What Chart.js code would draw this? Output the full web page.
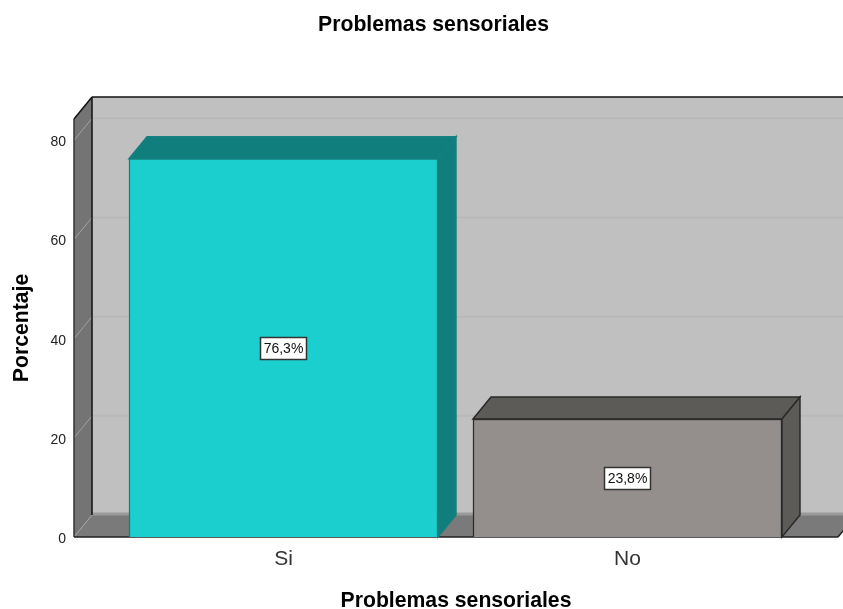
<!DOCTYPE html>
<html>
<head>
<meta charset="utf-8">
<style>
html,body{margin:0;padding:0;background:#fff;width:843px;height:609px;overflow:hidden}
canvas{display:block}
</style>
<script src="https://cdn.jsdelivr.net/npm/chart.js@4"></script>
</head>
<body>
<canvas id="c" width="867" height="609"></canvas>
<script>
const categories = ['Si', 'No'];
const percentages = [76.3, 23.8];
const yTickValues = [0, 20, 40, 60, 80];
const titleText = 'Problemas sensoriales';
const xTitleText = 'Problemas sensoriales';
const yTitleText = 'Porcentaje';
const frontColors = ['#1BCFCF', '#948F8D'];
const sideColors = ['#117E7E', '#5D5B58'];
const edgeColors = ['#167F7F', '#2A2A2A'];
const DX = 18, DY = -22;
const FONT = '"Liberation Sans", Arial, sans-serif';

function poly(ctx, pts, fill, stroke, lw) {
  ctx.beginPath();
  pts.forEach((p, i) => i ? ctx.lineTo(p[0], p[1]) : ctx.moveTo(p[0], p[1]));
  ctx.closePath();
  if (fill) { ctx.fillStyle = fill; ctx.fill(); }
  if (stroke) { ctx.strokeStyle = stroke; ctx.lineWidth = lw || 1; ctx.stroke(); }
}
function line(ctx, x1, y1, x2, y2, color, lw) {
  ctx.beginPath(); ctx.moveTo(x1, y1); ctx.lineTo(x2, y2);
  ctx.strokeStyle = color; ctx.lineWidth = lw || 1; ctx.stroke();
}

const box3d = {
  id: 'box3d',
  beforeDatasetsDraw(chart) {
    const ctx = chart.ctx, a = chart.chartArea, ys = chart.scales.y;
    const L = a.left, R = a.right, T = a.top, B = a.bottom;
    ctx.save();
    // back wall
    poly(ctx, [[L+DX,T+DY],[R+DX,T+DY],[R+DX,B+DY],[L+DX,B+DY]], '#C0C0C0');
    // left wall and floor
    poly(ctx, [[L,T],[L+DX,T+DY],[L+DX,B+DY],[L,B]], '#747474');
    poly(ctx, [[L,B],[L+DX,B+DY],[R+DX,B+DY],[R,B]], '#7A7A7A');
    // gridlines on walls
    yTickValues.forEach(v => {
      const y = ys.getPixelForValue(v);
      if (v > 0) {
        line(ctx, L+DX, y+DY, R+DX, y+DY, '#B8B8B8', 2);
      } else {
        line(ctx, L+DX, y+DY-1, R+DX, y+DY-1, '#9A9A9A', 3);
      }
      line(ctx, L, y, L+DX, y+DY, '#A2A2A2', 1);
    });
    // edges
    line(ctx, L+DX, T+DY, L+DX, B+DY, '#111', 1.5);
    line(ctx, L+DX, T+DY, R+DX, T+DY, '#111', 1.5);
    line(ctx, L, T, L+DX, T+DY, '#111', 1.5);
    line(ctx, L, T, L, B, '#333', 1.5);
    line(ctx, L, B, R, B, '#222', 1.5);
    line(ctx, R, B, R+DX, B+DY, '#222', 1.5);
    // top and side faces of the bars
    chart.getDatasetMeta(0).data.forEach((bar, i) => {
      const p = bar.getProps(['x','y','base','width'], true);
      const l = p.x - p.width/2, r = p.x + p.width/2;
      poly(ctx, [[l,p.y],[l+DX,p.y+DY],[r+DX,p.y+DY],[r,p.y]], sideColors[i], edgeColors[i], 1.5);
      poly(ctx, [[r,p.y],[r+DX,p.y+DY],[r+DX,p.base+DY],[r,p.base]], sideColors[i], edgeColors[i], 1.5);
    });
    ctx.restore();
  },
  afterDatasetsDraw(chart) {
    const ctx = chart.ctx;
    ctx.save();
    ctx.font = '14px ' + FONT;
    ctx.textAlign = 'center';
    ctx.textBaseline = 'middle';
    chart.getDatasetMeta(0).data.forEach((bar, i) => {
      const p = bar.getProps(['x','y','base'], true);
      const cy = (p.y + p.base)/2;
      const txt = percentages[i].toFixed(1).replace('.', ',') + '%';
      const w = 46, h = 22;
      const x = Math.round(p.x - w/2) + 0.5, y = Math.round(cy - h/2) + 0.5;
      ctx.fillStyle = '#fff';
      ctx.strokeStyle = '#333';
      ctx.lineWidth = 1.5;
      ctx.fillRect(x, y, w, h);
      ctx.strokeRect(x, y, w, h);
      ctx.fillStyle = '#111';
      ctx.fillText(txt, p.x, cy + 1);
    });
    ctx.restore();
  }
};

new Chart(document.getElementById('c'), {
  type: 'bar',
  data: {
    datasets: [{
      data: percentages.map((v, i) => ({x: i, y: v})),
      backgroundColor: frontColors,
      borderColor: edgeColors,
      borderWidth: 1.5,
      barThickness: 309
    }]
  },
  plugins: [box3d],
  options: {
    responsive: false,
    animation: false,
    layout: {padding: {left: 29, right: 29, top: 0, bottom: 0}},
    plugins: {
      legend: {display: false},
      tooltip: {enabled: false},
      title: {
        display: true,
        text: titleText,
        color: '#000',
        font: {family: FONT, size: 21.2, weight: 'bold', lineHeight: 1.2},
        padding: {top: 12.5, bottom: 81.06}
      }
    },
    scales: {
      x: {
        type: 'linear',
        offset: false,
        min: -0.609,
        max: 1.612,
        afterBuildTicks(s) { s.ticks = categories.map((c, i) => ({value: i})); },
        afterFit(s) { s.height = 72; },
        grid: {display: false, drawTicks: false},
        border: {display: false},
        ticks: {
          autoSkip: false, maxRotation: 0, padding: 10, color: '#333',
          font: {family: FONT, size: 21},
          callback: v => categories[v]
        },
        title: {
          display: true, text: xTitleText, color: '#000',
          font: {family: FONT, size: 21.2, weight: 'bold', lineHeight: 0.78},
          padding: 0
        }
      },
      y: {
        min: 0,
        max: 84.3,
        afterBuildTicks(s) { s.ticks = yTickValues.map(v => ({value: v})); },
        afterFit(s) { s.width = 45; },
        grid: {display: false, drawTicks: false},
        border: {display: false},
        ticks: {padding: 8, labelOffset: 2, color: '#222', font: {family: FONT, size: 14}},
        title: {
          display: true, text: yTitleText, color: '#000',
          font: {family: FONT, size: 21.2, weight: 'bold', lineHeight: 1.2},
          padding: {top: -19.7, bottom: 0}
        }
      }
    }
  }
});
</script>
</body>
</html>
